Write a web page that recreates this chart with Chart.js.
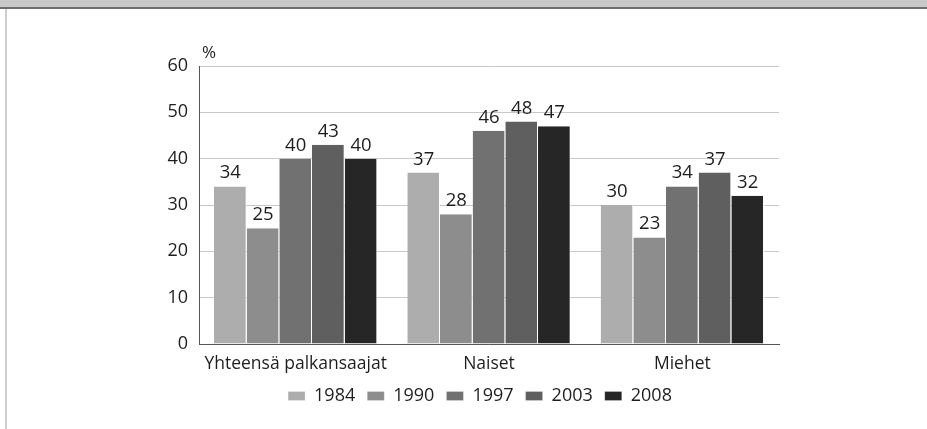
<!DOCTYPE html>
<html><head><meta charset="utf-8">
<script src="https://cdn.jsdelivr.net/npm/chart.js@4"></script>
<style>
html,body{margin:0;padding:0;background:#fff;}
#wrap{position:relative;width:927px;height:429px;overflow:hidden;}
#band{position:absolute;left:0;top:0;width:927px;height:7px;background:#c9c9c9;border-bottom:2px solid #6e6e6e;}
#lb{position:absolute;left:5px;top:9px;width:2px;height:420px;background:#cfcfcf;}
canvas{position:absolute;left:0;top:0;}
</style></head>
<body><div id="wrap"><div id="band"></div><div id="lb"></div><canvas id="c" width="927" height="429"></canvas></div>
<script>
const categories = ["Yhteensä palkansaajat", "Naiset", "Miehet"];
const years = ["1984", "1990", "1997", "2003", "2008"];
const v1984 = [34, 37, 30];
const v1990 = [25, 28, 23];
const v1997 = [40, 46, 34];
const v2003 = [43, 48, 37];
const v2008 = [40, 47, 32];
const yTicks = [0, 10, 20, 30, 40, 50, 60];
const colors = ["#adadad", "#8d8d8d", "#717171", "#5f5f5f", "#262626"];
const seriesValues = [v1984, v1990, v1997, v2003, v2008];

const FONT = "'Open Sans', sans-serif";
const TEXT = "#1e1e1e";

const labelPlugin = {
  id: 'vals',
  afterLayout(chart) {
    const lg = chart.legend;
    if (lg) {
      const shift = 480 - (lg.left + lg.right) / 2;
      lg.left += shift; lg.right += shift;
      lg.top -= 10; lg.bottom -= 10;
    }
  },
  afterDatasetsDraw(chart) {
    const ctx = chart.ctx;
    ctx.save();
    ctx.font = "18.5px " + FONT;
    ctx.fillStyle = TEXT;
    ctx.textAlign = "center";
    ctx.textBaseline = "alphabetic";
    chart.data.datasets.forEach((ds, i) => {
      chart.getDatasetMeta(i).data.forEach((bar, j) => {
        ctx.fillText(String(ds.data[j]), bar.x, bar.y - 8);
      });
    });
    ctx.font = "17px " + FONT;
    ctx.textAlign = "left";
    ctx.fillText("%", chart.chartArea.left + 3, chart.chartArea.top - 8);
    ctx.restore();
  }
};

new Chart(document.getElementById('c'), {
  type: 'bar',
  data: {
    labels: categories,
    datasets: years.map((y, i) => ({
      label: y,
      data: seriesValues[i],
      backgroundColor: colors[i],
      borderColor: "#ffffff",
      borderWidth: {left: 0, right: 1, top: 0, bottom: 0},
      borderSkipped: false,
      categoryPercentage: 0.845,
      barPercentage: 1.0
    }))
  },
  options: {
    responsive: false,
    animation: false,
    layout: {padding: {left: 160, right: 148, top: 66, bottom: 9}},
    plugins: {
      tooltip: {enabled: false},
      legend: {
        position: 'bottom',
        maxHeight: 35,
        labels: {
          boxWidth: 17, boxHeight: 9, padding: 12,
          color: TEXT,
          font: {family: FONT, size: 18}
        }
      }
    },
    scales: {
      x: {
        grid: {display: false, drawTicks: false},
        border: {display: true, color: "#555", width: 1},
        ticks: {color: TEXT, padding: 10, font: {family: FONT, size: 17.5}}
      },
      y: {
        min: 0, max: 60,
        afterFit(s) { s.width = 39; },
        afterBuildTicks(s) { s.ticks = yTicks.map(v => ({value: v})); },
        grid: {color: "#c8c8c8", drawTicks: false, lineWidth: 1},
        border: {display: true, color: "#555", width: 1},
        ticks: {color: TEXT, padding: 11, font: {family: FONT, size: 18}}
      }
    }
  },
  plugins: [labelPlugin]
});
</script>
</body></html>
